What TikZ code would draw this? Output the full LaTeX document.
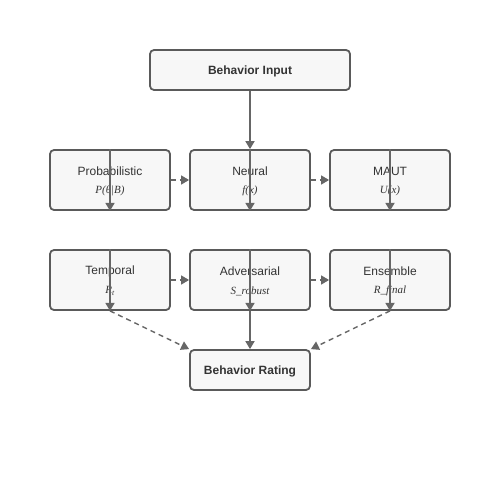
\documentclass[tikz,border=0pt]{standalone}
\usepackage{fontspec}
\setmainfont{Liberation Sans}
\newfontfamily\formfont{Liberation Serif}
\usetikzlibrary{arrows.meta}
\definecolor{boxfill}{HTML}{F7F7F7}
\definecolor{boxline}{HTML}{5A5A5A}
\definecolor{arrcol}{HTML}{666666}
\definecolor{txt}{HTML}{333333}
\tikzset{
  box/.style={draw=boxline, fill=boxfill, line width=1.8pt, rounded corners=4pt, minimum height=60pt, minimum width=120pt, inner sep=0pt},
  ttl/.style={text=txt, font=\fontsize{12}{14}\selectfont\bfseries},
  lbl/.style={text=txt, font=\fontsize{12}{14}\selectfont, inner sep=0pt},
  frm/.style={text=txt, font=\fontsize{11}{13}\selectfont\formfont\itshape, inner sep=0pt},
  arr/.style={draw=arrcol, line width=1.7pt, -{Triangle[length=8pt,width=9pt]}},
  darr/.style={draw=arrcol, line width=1.4pt, dash pattern=on 5pt off 4pt, -{Triangle[length=8pt,width=9pt]}},
}
\begin{document}
\begin{tikzpicture}[x=1pt,y=-1pt]
\useasboundingbox (0,0) rectangle (500,500);
\node[box, minimum width=200pt, minimum height=40pt] (inp) at (250,70) {};
\node[ttl] (inpt) at (250,71) {Behavior Input};

\node[box] (prob) at (110,180) {};
\node[box] (neur) at (250,180) {};
\node[box] (maut) at (390,180) {};
\node[box] (temp) at (110,280) {};
\node[box] (adv) at (250,280) {};
\node[box] (ens) at (390,280) {};
\node[box, minimum height=40pt] (rate) at (250,370) {};
\node[ttl] (ratet) at (250,371) {Behavior Rating};

\node[lbl] (probl) at (110,171) {Probabilistic};
\node[frm] (probf) at (110,191) {P(θ|B)};
\node[lbl] (neurl) at (250,171) {Neural};
\node[frm] (neurf) at (250,191) {f(x)};
\node[lbl] (mautl) at (390,171) {MAUT};
\node[frm] (mautf) at (390,191) {U(x)};
\node[lbl] (templ) at (110,271) {Temporal};
\node[frm] (tempf) at (110,291) {R\textsubscript{t}};
\node[lbl] (advl) at (250,271) {Adversarial};
\node[frm] (advf) at (250,291) {S\_robust};
\node[lbl] (ensl) at (390,271) {Ensemble};
\node[frm] (ensf) at (390,291) {R\_final};

\draw[arr] (inp.south) -- (neur.north);
\draw[arr] (prob.north) -- (prob.south);
\draw[arr] (neur.north) -- (neur.south);
\draw[arr] (maut.north) -- (maut.south);
\draw[arr] (temp.north) -- (temp.south);
\draw[arr] (adv.north) -- (adv.south);
\draw[arr] (ens.north) -- (ens.south);
\draw[darr] (prob.east) -- (neur.west);
\draw[darr] (neur.east) -- (maut.west);
\draw[darr] (temp.east) -- (adv.west);
\draw[darr] (adv.east) -- (ens.west);
\draw[arr] (adv.south) -- (rate.north);
\draw[darr] (temp.south) -- (rate.north west);
\draw[darr] (ens.south) -- (rate.north east);
\end{tikzpicture}
\end{document}
